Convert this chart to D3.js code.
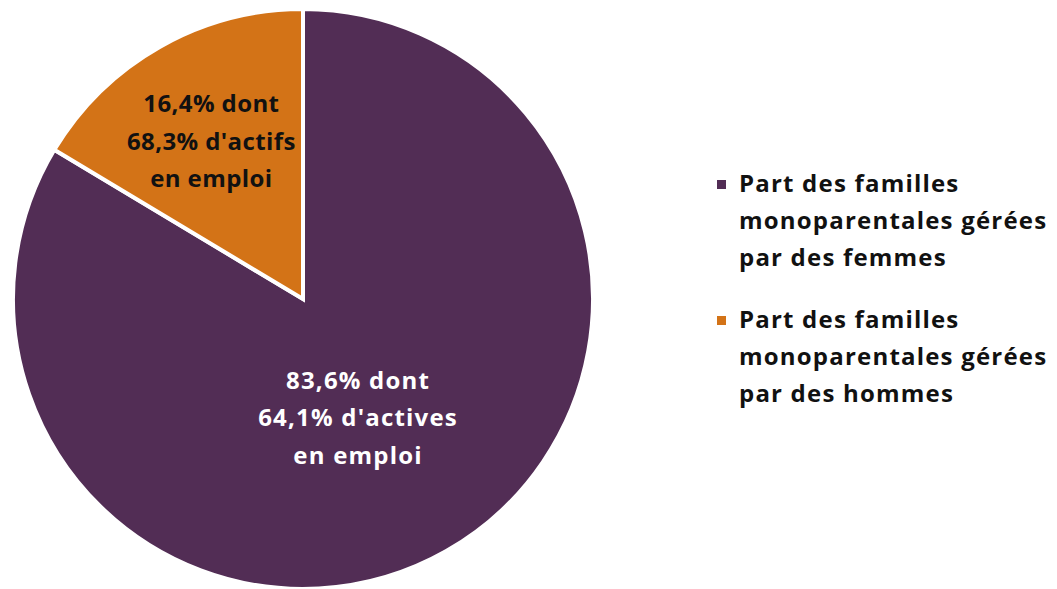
<!DOCTYPE html>
<html>
<head>
<meta charset="utf-8">
<script src="https://cdn.jsdelivr.net/npm/d3@7"></script>
<style>
  body { margin: 0; background: #fff; }
  text { font-family: "Open Sans", Lato, sans-serif; font-weight: bold; letter-spacing: 1.2px; }
</style>
</head>
<body>
<script>
// data
var categories = ["Part des familles monoparentales gérées par des femmes",
                  "Part des familles monoparentales gérées par des hommes"]
var shares = [83.6, 16.4]
var employed = [64.1, 68.3]
var labelWord = ["d'actives", "d'actifs"]
var colors = ["#522D55", "#D37317"]

var width = 1057, height = 589
var cx = 303, cy = 299, radius = 290

var svg = d3.select("body").append("svg")
    .attr("width", width)
    .attr("height", height)

var fmt = function(v) { return d3.format(".1f")(v).replace(".", ",") + "%" }

var pie = d3.pie().sort(null).value(function(d) { return d.value })
var arcs = pie(shares.map(function(v, i) { return {value: v, i: i} }))

var arc = d3.arc().innerRadius(0).outerRadius(radius)

var g = svg.append("g").attr("transform", "translate(" + cx + "," + cy + ")")

g.selectAll("path.slice")
  .data(arcs)
  .enter().append("path")
    .attr("class", "slice")
    .attr("d", arc)
    .attr("fill", function(d) { return colors[d.index] })
    .attr("stroke", "#fff")
    .attr("stroke-width", 4)
    .attr("stroke-linejoin", "miter")

// labels sit at different distances, like the original (with a small nudge for the big one)
var labelRadius = [128, 182]
var nudge = [[-8, 8], [-2, 1]]
var labels = g.selectAll("text.lbl")
  .data(arcs)
  .enter().append("text")
    .attr("class", "lbl")
    .attr("text-anchor", "middle")
    .attr("font-size", 24)
    .style("letter-spacing", function(d) { return d.index === 0 ? "1.2px" : "0.4px" })
    .attr("fill", function(d) { return d.index === 0 ? "#fff" : "#111" })
    .attr("transform", function(d) {
      var r = labelRadius[d.index]
      var c = d3.arc().innerRadius(r).outerRadius(r).centroid(d)
      return "translate(" + (c[0] + nudge[d.index][0]) + "," + (c[1] + nudge[d.index][1]) + ")"
    })

labels.each(function(d) {
  var lines = [fmt(shares[d.index]) + " dont",
               fmt(employed[d.index]) + " " + labelWord[d.index],
               "en emploi"]
  var t = d3.select(this)
  lines.forEach(function(l, k) {
    t.append("tspan").attr("x", 0).attr("y", (k - 1) * 37.5 + 8).text(l)
  })
})

// legend
var legendLines = [
  ["Part des familles", "monoparentales gérées", "par des femmes"],
  ["Part des familles", "monoparentales gérées", "par des hommes"]
]
var legend = svg.selectAll("g.legend")
  .data(categories)
  .enter().append("g")
    .attr("class", "legend")
    .attr("transform", function(d, i) { return "translate(717," + (184 + i * 136) + ")" })

legend.append("rect")
    .attr("x", 0).attr("y", -4)
    .attr("width", 9).attr("height", 9)
    .attr("fill", function(d, i) { return colors[i] })

legend.append("text")
    .attr("font-size", 24)
    .attr("fill", "#111")
    .each(function(d, i) {
      var t = d3.select(this)
      legendLines[i].forEach(function(l, k) {
        t.append("tspan").attr("x", 22).attr("y", k * 37 + 8).text(l)
      })
    })
</script>
</body>
</html>
